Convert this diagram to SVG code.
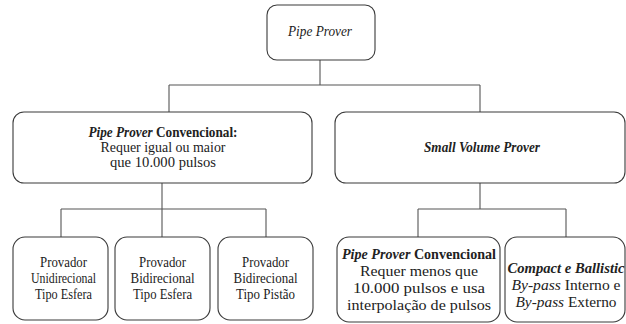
<svg xmlns="http://www.w3.org/2000/svg" width="626" height="324" viewBox="0 0 626 324" font-family="Liberation Serif, Tinos, DejaVu Serif, serif">
  <defs>
    <style>
      .box { fill: #ffffff; stroke: #3a3a3a; stroke-width: 1.1; }
      .wire { fill: none; stroke: #555555; stroke-width: 1.1; }
      .t { font-size: 14px; fill: #222222; text-anchor: middle; }
      .s { font-size: 15px; }
      .i { font-style: italic; }
      .b { font-weight: bold; }
    </style>
  </defs>
  <rect width="626" height="324" fill="#ffffff"/>

  <!-- tree connectors: root to second level, then each branch to its leaves -->
  <g id="connectors">
    <path class="wire" d="M320 60 V85 M169 85 H480 M169 85 V112 M480 85 V112"/>
    <path class="wire" d="M162 183 V209 M61 209 H266 M61 209 V237 M162 209 V237 M266 209 V237"/>
    <path class="wire" d="M480 183 V209 M418 209 H566 M418 209 V237 M566 209 V237"/>
  </g>

  <g id="pipe-prover" class="t">
    <rect class="box" x="267" y="5" width="108" height="55" rx="10"/>
    <text x="320" y="36" class="i" textLength="64" lengthAdjust="spacingAndGlyphs">Pipe Prover</text>
  </g>

  <g id="convencional" class="t">
    <rect class="box" x="13" y="112" width="299" height="71" rx="11"/>
    <text x="163" y="137" textLength="149" lengthAdjust="spacingAndGlyphs"><tspan class="i b">Pipe Prover</tspan><tspan class="b"> Convencional:</tspan></text>
    <text x="163" y="152" textLength="125" lengthAdjust="spacingAndGlyphs">Requer igual ou maior</text>
    <text x="163" y="167" textLength="106" lengthAdjust="spacingAndGlyphs">que 10.000 pulsos</text>
  </g>

  <g id="small-volume" class="t">
    <rect class="box" x="335" y="112" width="290" height="71" rx="11"/>
    <text x="482" y="152" class="i b" textLength="116" lengthAdjust="spacingAndGlyphs">Small Volume Prover</text>
  </g>

  <g id="unidirecional-esfera" class="t s">
    <rect class="box" x="13" y="237" width="95" height="83" rx="12"/>
    <text x="63.5" y="267" textLength="47" lengthAdjust="spacingAndGlyphs">Provador</text>
    <text x="63.5" y="283" textLength="65" lengthAdjust="spacingAndGlyphs">Unidirecional</text>
    <text x="63.5" y="299" textLength="57" lengthAdjust="spacingAndGlyphs">Tipo Esfera</text>
  </g>

  <g id="bidirecional-esfera" class="t s">
    <rect class="box" x="115" y="237" width="95" height="83" rx="12"/>
    <text x="162.5" y="267" textLength="47" lengthAdjust="spacingAndGlyphs">Provador</text>
    <text x="162.5" y="283" textLength="64" lengthAdjust="spacingAndGlyphs">Bidirecional</text>
    <text x="162.5" y="299" textLength="59" lengthAdjust="spacingAndGlyphs">Tipo Esfera</text>
  </g>

  <g id="bidirecional-pistao" class="t s">
    <rect class="box" x="218" y="237" width="95" height="83" rx="12"/>
    <text x="265.5" y="267" textLength="47" lengthAdjust="spacingAndGlyphs">Provador</text>
    <text x="265.5" y="283" textLength="64" lengthAdjust="spacingAndGlyphs">Bidirecional</text>
    <text x="265.5" y="299" textLength="59" lengthAdjust="spacingAndGlyphs">Tipo Pistão</text>
  </g>

  <g id="convencional-interpolacao" class="t s">
    <rect class="box" x="337" y="237" width="163" height="85" rx="12"/>
    <text x="419" y="259" textLength="154" lengthAdjust="spacingAndGlyphs"><tspan class="i b">Pipe Prover</tspan><tspan class="b"> Convencional</tspan></text>
    <text x="419" y="276" textLength="118" lengthAdjust="spacingAndGlyphs">Requer menos que</text>
    <text x="419" y="293" textLength="132" lengthAdjust="spacingAndGlyphs">10.000 pulsos e usa</text>
    <text x="419" y="310" textLength="144" lengthAdjust="spacingAndGlyphs">interpolação de pulsos</text>
  </g>

  <g id="compact-ballistic" class="t s">
    <rect class="box" x="505" y="237" width="120" height="85" rx="12"/>
    <text x="566" y="273" class="i b" textLength="117" lengthAdjust="spacingAndGlyphs">Compact e Ballistic</text>
    <text x="566" y="290" textLength="109" lengthAdjust="spacingAndGlyphs"><tspan class="i">By-pass</tspan> Interno e</text>
    <text x="566" y="307" textLength="101" lengthAdjust="spacingAndGlyphs"><tspan class="i">By-pass</tspan> Externo</text>
  </g>
</svg>
